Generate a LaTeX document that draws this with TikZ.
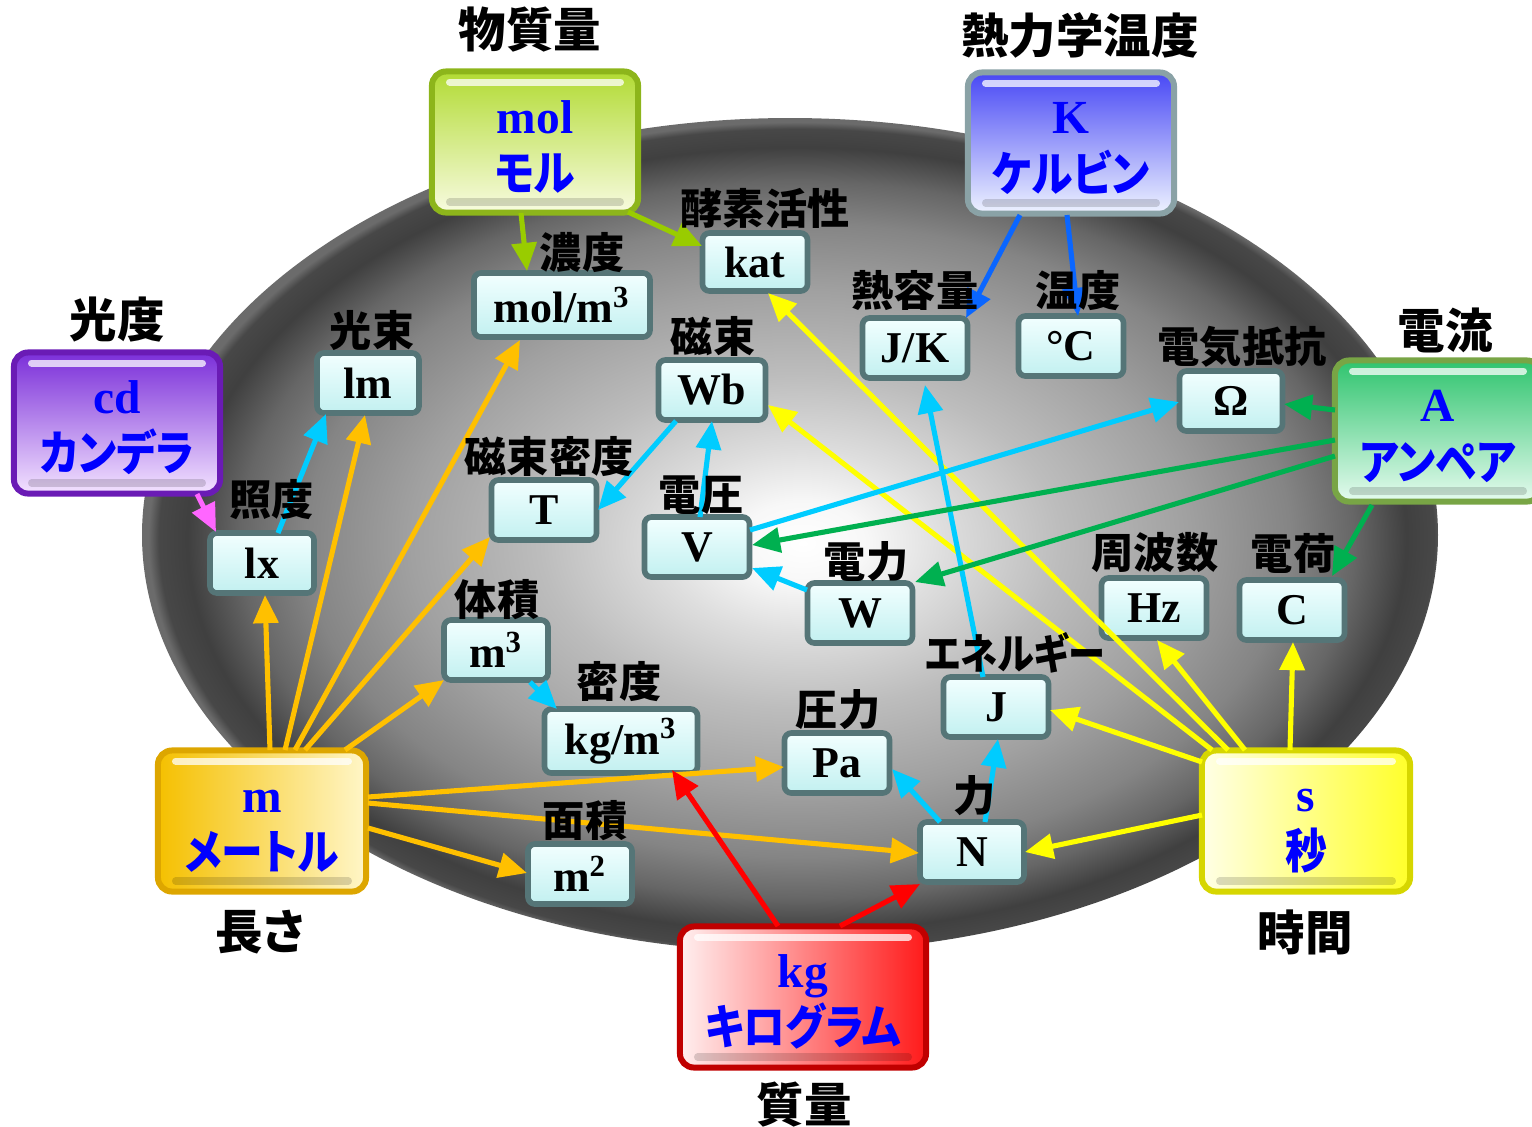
\documentclass[tikz,border=0pt]{standalone}
\usepackage{fontspec}
\setmainfont{Liberation Serif}
\newfontfamily\jp{Noto Sans CJK JP}[RawFeature=+palt]
\usetikzlibrary{arrows.meta,calc}
\definecolor{txtblue}{HTML}{0000FF}
\definecolor{cOrange}{HTML}{FFC000}
\definecolor{cRed}{HTML}{FF0000}
\definecolor{cYellow}{HTML}{FFFF00}
\definecolor{cCyan}{HTML}{00CCFF}
\definecolor{cGreen}{HTML}{00B050}
\definecolor{cBlue}{HTML}{0A66FF}
\definecolor{cYG}{HTML}{99CC00}
\definecolor{cMag}{HTML}{FF66FF}
\definecolor{sbBorder}{HTML}{557577}
\definecolor{sbTop}{HTML}{F2FFFF}
\definecolor{sbBot}{HTML}{C2F0F0}
\definecolor{molTop}{HTML}{B2DB34}\definecolor{molBot}{HTML}{F8FBE0}\definecolor{molBd}{HTML}{8DB51B}
\definecolor{kTop}{HTML}{4848F5}\definecolor{kBot}{HTML}{EEF3FF}\definecolor{kBd}{HTML}{8AA2A6}
\definecolor{cdTop}{HTML}{7B2FD9}\definecolor{cdBot}{HTML}{F3E3FF}\definecolor{cdBd}{HTML}{6A1BB5}
\definecolor{aTop}{HTML}{2FC46E}\definecolor{aBot}{HTML}{E6FBEF}\definecolor{aBd}{HTML}{78A545}
\definecolor{mL}{HTML}{F5C000}\definecolor{mR}{HTML}{FFF6C8}\definecolor{mBd}{HTML}{DDA600}
\definecolor{sL}{HTML}{FFFFE6}\definecolor{sR}{HTML}{FFFF2A}\definecolor{sBd}{HTML}{D6D600}
\definecolor{kgL}{HTML}{FFF0F0}\definecolor{kgR}{HTML}{FF1A1A}\definecolor{kgBd}{HTML}{C00000}
\pgfdeclareradialshading{ballshade}{\pgfpoint{0.5bp}{-0.5bp}}{color(0bp)=(white); color(2.5bp)=(black!3); color(5.5bp)=(black!13); color(10bp)=(black!26); color(15bp)=(black!37); color(19bp)=(black!48); color(21.5bp)=(black!60); color(23.5bp)=(black!75); color(24.6bp)=(black!72); color(25bp)=(black!58); color(50bp)=(black!58)}
\newcommand{\bigtxt}[2]{{\bfseries\rule{0pt}{12pt}#1}\\[0.3pt]{\jp\bfseries\scalebox{0.88}[1]{#2}}}
\tikzset{
  sbox/.style={draw=sbBorder, line width=1.6pt, rounded corners=2pt, top color=sbTop, bottom color=sbBot,
    minimum width=1.05cm, minimum height=0.6cm, inner sep=0pt, font=\fontsize{12.5}{14}\selectfont\bfseries},
  bbox/.style={rounded corners=4pt, line width=1.7pt, minimum width=2.06cm, minimum height=1.41cm,
    align=center, text=txtblue, inner sep=0pt, font=\fontsize{13.5}{16}\selectfont\bfseries,
    path picture={\draw[white, opacity=0.75, line width=2pt, line cap=round]
      ([xshift=5pt,yshift=-3pt]path picture bounding box.north west) -- ([xshift=-5pt,yshift=-3pt]path picture bounding box.north east);
      \draw[black, opacity=0.15, line width=2pt, line cap=round]
      ([xshift=5pt,yshift=3pt]path picture bounding box.south west) -- ([xshift=-5pt,yshift=3pt]path picture bounding box.south east);}},
  lab/.style={inner sep=0pt, font=\fontsize{12}{14}\selectfont\jp\bfseries},
  blab/.style={inner sep=0pt, font=\fontsize{13.5}{16}\selectfont\jp\bfseries},
  arr/.style={line width=1.45pt, -{Triangle[length=8pt,width=7pt]}},
}
\begin{document}
\begin{tikzpicture}[x=0.01cm,y=-0.01cm]
\useasboundingbox (0,0) rectangle (1532,1126);
% background ellipse
\shade[shading=ballshade] (790,535) ellipse [x radius=648, y radius=417];

% big boxes
\node[bbox, draw=molBd, top color=molTop, bottom color=molBot] (mol) at (535,142) {\bigtxt{mol}{モル}};
\node[bbox, draw=kBd, top color=kTop, bottom color=kBot] (K) at (1071,143) {\bigtxt{K}{ケルビン}};
\node[bbox, draw=cdBd, top color=cdTop, bottom color=cdBot] (cd) at (117,423) {\bigtxt{cd}{カンデラ}};
\node[bbox, draw=aBd, top color=aTop, bottom color=aBot] (A) at (1438,431) {\bigtxt{A}{アンペア}};
\node[bbox, draw=mBd, left color=mL, right color=mR, minimum width=2.08cm] (m) at (262,821) {\bigtxt{m}{メートル}};
\node[bbox, draw=sBd, left color=sL, right color=sR, minimum width=2.08cm] (s) at (1306,821) {\bigtxt{s}{秒}};
\node[bbox, draw=kgBd, left color=kgL, right color=kgR, minimum width=2.46cm] (kg) at (803,997) {\bigtxt{kg}{キログラム}};

% small boxes
\node[sbox, minimum width=1.76cm, minimum height=0.64cm] (molm3) at (562,305) {mol/m\textsuperscript{3}};
\node[sbox, minimum height=0.58cm] (kat) at (755,262) {kat};
\node[sbox, minimum width=1.02cm] (lm) at (368,383) {lm};
\node[sbox, minimum width=1.04cm] (lx) at (262,563) {lx};
\node[sbox, minimum width=1.07cm] (Wb) at (712,390) {Wb};
\node[sbox] (T) at (544,510) {T};
\node[sbox] (JK) at (915,348) {J/K};
\node[sbox] (degC) at (1071,346) {°C};
\node[sbox, minimum width=1.03cm] (Ohm) at (1231,401) {Ω};
\node[sbox] (V) at (697,547) {V};
\node[sbox] (W) at (860,613) {W};
\node[sbox] (Hz) at (1154,608) {Hz};
\node[sbox] (C) at (1292,610) {C};
\node[sbox, minimum width=1.04cm] (m3) at (496,650) {m\textsuperscript{3}};
\node[sbox, minimum width=1.53cm, minimum height=0.64cm] (kgm3) at (621,741) {kg/m\textsuperscript{3}};
\node[sbox] (Pa) at (837,763) {Pa};
\node[sbox] (J) at (996,707) {J};
\node[sbox, minimum width=1.04cm] (N) at (972,852) {N};
\node[sbox, minimum width=1.04cm] (m2) at (580,874) {m\textsuperscript{2}};

% arrows: metre
\draw[arr, cOrange] ($(m)+(8,-71)$) -- ($(lx)+(3,32)$);
\draw[arr, cOrange] ($(m)+(23,-71)$) -- ($(lm)+(-3,32)$);
\draw[arr, cOrange] ($(m)+(33,-71)$) -- ($(molm3)+(-42,35)$);
\draw[arr, cOrange] ($(m)+(43,-71)$) -- ($(T)+(-54,27)$);
\draw[arr, cOrange] ($(m)+(83,-71)$) -- ($(m3)+(-52,30)$);
\draw[arr, cOrange] ($(m)+(106,-24)$) -- ($(Pa)+(-53,4)$);
\draw[arr, cOrange] ($(m)+(106,-18)$) -- ($(N)+(-53,1)$);
\draw[arr, cOrange] ($(m)+(106,7)$) -- ($(m2)+(-53,-1)$);
% kilogram
\draw[arr, cRed] ($(kg)+(-25,-71)$) -- ($(kgm3)+(51,29)$);
\draw[arr, cRed] ($(kg)+(37,-71)$) -- ($(N)+(-52,32)$);
% second
\draw[arr, cYellow] ($(s)+(-104,-6)$) -- ($(N)+(53,0)$);
\draw[arr, cYellow] ($(s)+(-104,-59)$) -- ($(J)+(54,3)$);
\draw[arr, cYellow] ($(s)+(-61,-71)$) -- ($(Hz)+(3,32)$);
\draw[arr, cYellow] ($(s)+(-16,-71)$) -- ($(C)+(1,32)$);
\draw[arr, cYellow] ($(s)+(-78,-71)$) -- ($(kat)+(13,31)$);
\draw[arr, cYellow] ($(s)+(-94,-71)$) -- ($(Wb)+(56,15)$);
% derived (cyan)
\draw[arr, cCyan] ($(lx)+(16,-30)$) -- ($(lm)+(-42,31)$);
\draw[arr, cCyan] ($(Wb)+(-36,31)$) -- ($(T)+(54,0)$);
\draw[arr, cCyan] ($(V)+(3,-30)$) -- ($(Wb)+(0,31)$);
\draw[arr, cCyan] ($(W)+(-53,-23)$) -- ($(V)+(55,21)$);
\draw[arr, cCyan] ($(V)+(53,-17)$) -- ($(Ohm)+(-52,1)$);
\draw[arr, cCyan] ($(J)+(-13,-30)$) -- ($(JK)+(10,37)$);
\draw[arr, cCyan] ($(m3)+(34,32)$) -- ($(kgm3)+(-64,-32)$);
\draw[arr, cCyan] ($(N)+(-32,-30)$) -- ($(Pa)+(55,6)$);
\draw[arr, cCyan] ($(N)+(13,-30)$) -- ($(J)+(2,32)$);
% ampere
\draw[arr, cGreen] ($(A)+(-103,-21)$) -- ($(Ohm)+(53,3)$);
\draw[arr, cGreen] ($(A)+(-103,9)$) -- ($(V)+(55,-2)$);
\draw[arr, cGreen] ($(A)+(-103,25)$) -- ($(W)+(55,-31)$);
\draw[arr, cGreen] ($(A)+(-66,74)$) -- ($(C)+(40,-34)$);
% kelvin
\draw[arr, cBlue] ($(K)+(-51,72)$) -- ($(JK)+(51,-30)$);
\draw[arr, cBlue] ($(K)+(-4,72)$) -- ($(degC)+(7,-30)$);
% mole
\draw[arr, cYG] ($(mol)+(-14,71)$) -- ($(molm3)+(-35,-34)$);
\draw[arr, cYG] ($(mol)+(93,70)$) -- ($(kat)+(-53,-16)$);
% candela
\draw[arr, cMag] ($(cd)+(80,71)$) -- ($(lx)+(-46,-31)$);

% labels
\node[blab] (lbMol) at (530,30) {物質量};
\node[blab] (lbK) at (1080,35) {熱力学温度};
\node[blab] (lbCd) at (117,320) {光度};
\node[blab] (lbA) at (1445,330) {電流};
\node[blab] (lbM) at (260,932) {長さ};
\node[blab] (lbS) at (1305,932) {時間};
\node[blab] (lbKg) at (804,1105) {質量};
\node[lab] (lbMolm3) at (582,253) {濃度};
\node[lab] (lbKat) at (765,208) {酵素活性};
\node[lab] (lbLm) at (372,330) {光束};
\node[lab] (lbLx) at (272,500) {照度};
\node[lab] (lbWb) at (713,336) {磁束};
\node[lab] (lbT) at (549,457) {磁束密度};
\node[lab] (lbJK) at (915,290) {熱容量};
\node[lab] (lbDegC) at (1078,291) {温度};
\node[lab] (lbOhm) at (1242,347) {電気抵抗};
\node[lab] (lbV) at (701,495) {電圧};
\node[lab] (lbW) at (866,562) {電力};
\node[lab] (lbHz) at (1155,553) {周波数};
\node[lab] (lbC) at (1293,553) {電荷};
\node[lab] (lbM3) at (497,600) {体積};
\node[lab] (lbKgm3) at (619,682) {密度};
\node[lab] (lbPa) at (838,710) {圧力};
\node[lab] (lbJ) at (1015,653) {\scalebox{0.88}[1]{エネルギー}};
\node[lab] (lbN) at (975,796) {力};
\node[lab] (lbM2) at (585,821) {面積};
\end{tikzpicture}
\end{document}
